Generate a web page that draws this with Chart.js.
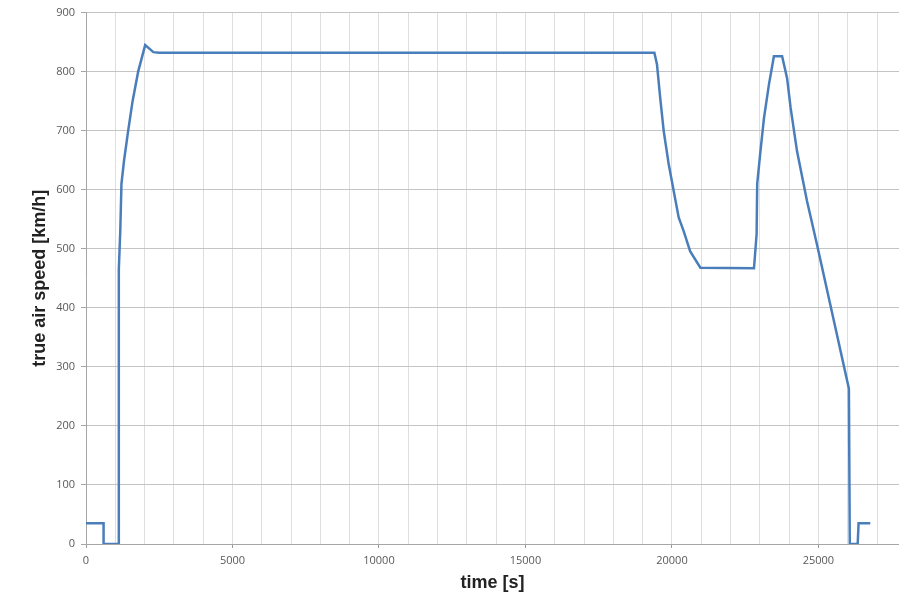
<!DOCTYPE html>
<html>
<head>
  <meta charset="UTF-8">
  <title>True air speed</title>
  <script src="https://cdn.jsdelivr.net/npm/chart.js@4.4.0/dist/chart.umd.min.js"></script>
  <style>
    html, body { margin: 0; padding: 0; background: #fff; overflow: hidden; }
    canvas { display: block; }
  </style>
</head>
<body>
  <canvas id="speedChart" width="899" height="597"></canvas>
  <script>
    // flight profile
    const timeS = [0, 600, 600, 1100, 1120, 1170, 1210, 1300, 1440, 1590, 1780, 2020, 2300, 2500,
      19400, 19490, 19600, 19720, 19890, 20060, 20230, 20400, 20620, 20970,
      22800, 22890, 22910, 23020, 23140, 23310, 23480, 23760, 23930, 24050, 24270, 24610, 24960,
      26040, 26070, 26340, 26370, 26770];
    const speedKmh = [35, 35, 0, 0, 465, 530, 610, 650, 700, 750, 800, 845, 833, 832,
      832, 812, 755, 699, 643, 598, 553, 530, 496, 468,
      467, 525, 610, 665, 721, 778, 826, 826, 789, 739, 665, 581, 505,
      263, 0, 0, 35, 35];

    // x grid every 1000 s, labels every 5000 s
    const xTicks = [0, 1000, 2000, 3000, 4000, 5000, 6000, 7000, 8000, 9000, 10000, 11000, 12000, 13000,
      14000, 15000, 16000, 17000, 18000, 19000, 20000, 21000, 22000, 23000, 24000, 25000, 26000, 27000];
    const xLabels = [0, 5000, 10000, 15000, 20000, 25000];
    const xMin = 0, xMax = 27750;
    const yMin = 0, yMax = 900, yStep = 100;

    const points = timeS.map((t, i) => ({ x: t, y: speedKmh[i] }));
    const tickFont = { family: "'Open Sans', 'DejaVu Sans', sans-serif", size: 11 };
    const titleFont = { family: "'Liberation Sans', Arial, sans-serif", size: 18, weight: 'bold' };

    new Chart(document.getElementById('speedChart'), {
      type: 'line',
      data: {
        datasets: [{
          data: points,
          borderColor: '#4a7ebb',
          borderWidth: 2.5,
          pointRadius: 0,
          tension: 0,
          fill: false
        }]
      },
      options: {
        responsive: false,
        animation: false,
        devicePixelRatio: 1,
        layout: { padding: { top: 11, right: 0, left: 0, bottom: 0 } },
        plugins: { legend: { display: false }, tooltip: { enabled: false } },
        scales: {
          x: {
            type: 'linear',
            min: xMin,
            max: xMax,
            afterBuildTicks: s => { s.ticks = xTicks.map(v => ({ value: v })); },
            afterFit: s => { s.height = 53; },
            ticks: {
              autoSkip: false,
              maxRotation: 0,
              padding: 6,
              color: '#595959',
              font: tickFont,
              callback: v => (xLabels.includes(v) ? v : '')
            },
            grid: {
              color: '#dedede',
              lineWidth: 1,
              tickLength: 4,
              tickColor: ctx => (ctx.tick && xLabels.includes(ctx.tick.value) ? '#9a9a9a' : 'rgba(0,0,0,0)')
            },
            border: { color: '#a6a6a6', width: 1 },
            title: {
              display: true,
              text: 'time [s]',
              color: '#222',
              font: titleFont,
              padding: { top: 0, bottom: 3 }
            }
          },
          y: {
            min: yMin,
            max: yMax,
            afterFit: s => { s.width = 86; },
            ticks: {
              stepSize: yStep,
              padding: 6,
              color: '#595959',
              font: tickFont
            },
            grid: {
              color: '#c4c4c4',
              lineWidth: 1,
              tickLength: 5,
              tickColor: '#a6a6a6'
            },
            border: { color: '#a6a6a6', width: 1 },
            title: {
              display: true,
              text: 'true air speed [km/h]',
              color: '#222',
              font: titleFont,
              padding: { top: 29, bottom: 0 }
            }
          }
        }
      }
    });
  </script>
</body>
</html>
